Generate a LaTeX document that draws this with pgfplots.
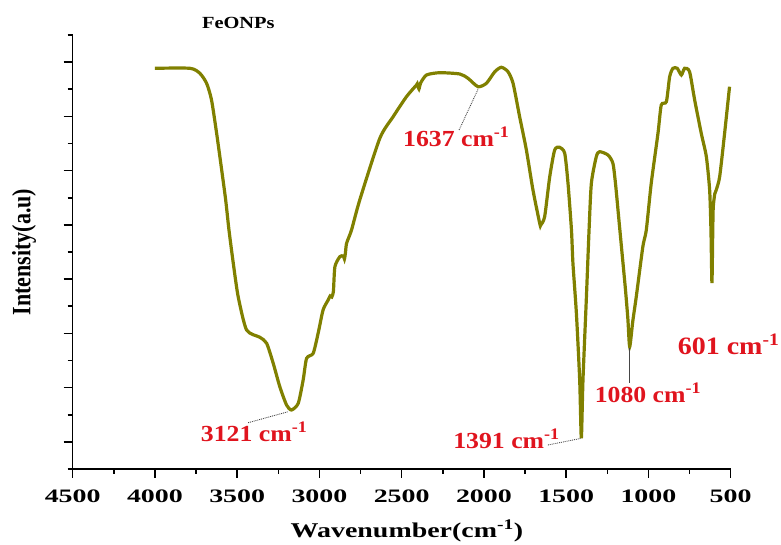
\documentclass[border=0pt]{standalone}
\usepackage{fontspec}
\setmainfont{Liberation Serif}
\newfontfamily\stretchserif{Liberation Serif}[FakeStretch=1.47]
\newfontfamily\labelserif{Liberation Serif}[FakeStretch=1.33]
\newfontfamily\titleserif{Liberation Serif}[FakeStretch=1.2]
\newfontfamily\redserif{Liberation Serif}[FakeStretch=1.12]
\usepackage{pgfplots}
\pgfplotsset{compat=1.18}
\definecolor{olivecurve}{RGB}{128,128,0}
\definecolor{labred}{RGB}{224,20,30}
\definecolor{leader}{RGB}{70,70,70}

\pgfplotstableread{
w h
4000 400.7
3787 400.7
3727 395.7
3686 385.7
3656 369
3625 335.7
3597 302.3
3570 269
3550 239
3524 206
3494 172.3
3443 139
3362 131.7
3321 125.7
3281 105.7
3241 82.3
3200 64
3170 59
3129 65.7
3099 89
3078 110.7
3038 115.7
3008 135.7
2978 159
2947 169
2935 173
2925 172
2915 178
2906 202.3
2876 212.3
2855 213
2848 210
2842 216
2835 225.7
2805 239
2755 269
2633 330.7
2552 352.3
2471 372.3
2410 384
2405 385
2395 380
2385 386
2349 394
2269 396.3
2147 395
2097 390.7
2036 382.3
1985 385.7
1934 397.3
1894 401.7
1854 397.3
1823 385.7
1783 352.3
1742 319
1702 279
1661 245.7
1655 244
1631 252.3
1600 292.3
1570 319
1540 321.7
1509 315.7
1489 285.7
1468 239
1459 205.7
1438 155.7
1418 89
1408 30.7
1398 89
1377 172.3
1361 239
1347 285.7
1317 312.3
1297 317.3
1246 314
1216 305.7
1200 285
1180 250
1160 215
1140 180
1125 150
1114 122.3
1095 148
1074 172.3
1034 222.3
1013 239
983 285.7
942 335.7
922 364
891 367.3
871 392.3
851 400.7
825 400.7
800 394
780 400.7
750 397.3
719 369
679 335.7
648 312.3
628 279
620 239
614 186
609 239
606 262
597 275
588 279
567 292.3
537 335.7
507 382.3
}\spectrum

\begin{document}
\begin{tikzpicture}
\begin{axis}[
  width=658pt, height=434pt, scale only axis,
  xmin=500, xmax=4500, x dir=reverse,
  ymin=0, ymax=434,
  axis x line*=bottom, axis y line*=left,
  axis line style={-, line width=1.6pt, black},
  xtick={500,1000,...,4500},
  minor xtick={750,1250,...,4250},
  ytick={27.125,81.375,135.625,189.875,244.125,298.375,352.625,406.875},
  minor ytick={0,54.25,108.5,162.75,217,271.25,325.5,379.75,434},
  yticklabels={},
  tick align=outside,
  major tick length=9pt, minor tick length=5pt,
  every tick/.style={black, line width=1.6pt},
  /pgf/number format/1000 sep={},
  /pgf/number format/assume math mode=true,
  xticklabel style={font=\stretchserif\bfseries\fontsize{19}{22}\selectfont, anchor=base, yshift=-25pt},
  xlabel={Wavenumber(cm\textsuperscript{-1})},
  xlabel style={font=\labelserif\bfseries\fontsize{21}{24}\selectfont, at={(axis description cs:0.508,-0.157)}, anchor=base},
  ylabel={\scalebox{1}[1.2]{Intensity(a.u)}},
  ylabel style={font=\bfseries\fontsize{22}{24}\selectfont, at={(axis description cs:-0.074,0.5)}, anchor=center, rotate=0},
  clip=false,
]
\addplot[olivecurve, line width=3.2pt, smooth, tension=0.4] table[x=w, y=h] {\spectrum};

\draw[leader, densely dotted, line width=0.9pt] (axis cs:3433,46.3) -- (axis cs:3190,57.3);
\draw[leader, densely dotted, line width=0.9pt] (axis cs:2151,339) -- (axis cs:2036,379.7);
\draw[leader, densely dotted, line width=0.9pt] (axis cs:1611,24) -- (axis cs:1408,30.7);
\draw[leader, line width=0.9pt] (axis cs:1114,120.7) -- (axis cs:1114,85.7);

\node[anchor=base, text=labred, font=\redserif\bfseries\fontsize{23}{25}\selectfont] at (axis cs:3397,27.3) {3121 cm\textsuperscript{-1}};
\node[anchor=base, text=labred, font=\redserif\bfseries\fontsize{23}{25}\selectfont] at (axis cs:2168,322.3) {1637 cm\textsuperscript{-1}};
\node[anchor=base, text=labred, font=\redserif\bfseries\fontsize{23}{25}\selectfont] at (axis cs:1863,20) {1391 cm\textsuperscript{-1}};
\node[anchor=base, text=labred, font=\redserif\bfseries\fontsize{23}{25}\selectfont] at (axis cs:1003,66.3) {1080 cm\textsuperscript{-1}};
\node[anchor=base, text=labred, font=\redserif\bfseries\fontsize{25}{27}\selectfont] at (axis cs:513,114) {601 cm\textsuperscript{-1}};

\node[anchor=base, font=\titleserif\bfseries\fontsize{17}{20}\selectfont] at (axis description cs:0.2517,1.0154) {FeONPs};
\end{axis}
\pgfresetboundingbox
\path ([xshift=-72.7pt,yshift=-76pt]current axis.south west) rectangle ([xshift=708.3pt,yshift=469pt]current axis.south west);
\end{tikzpicture}
\end{document}
